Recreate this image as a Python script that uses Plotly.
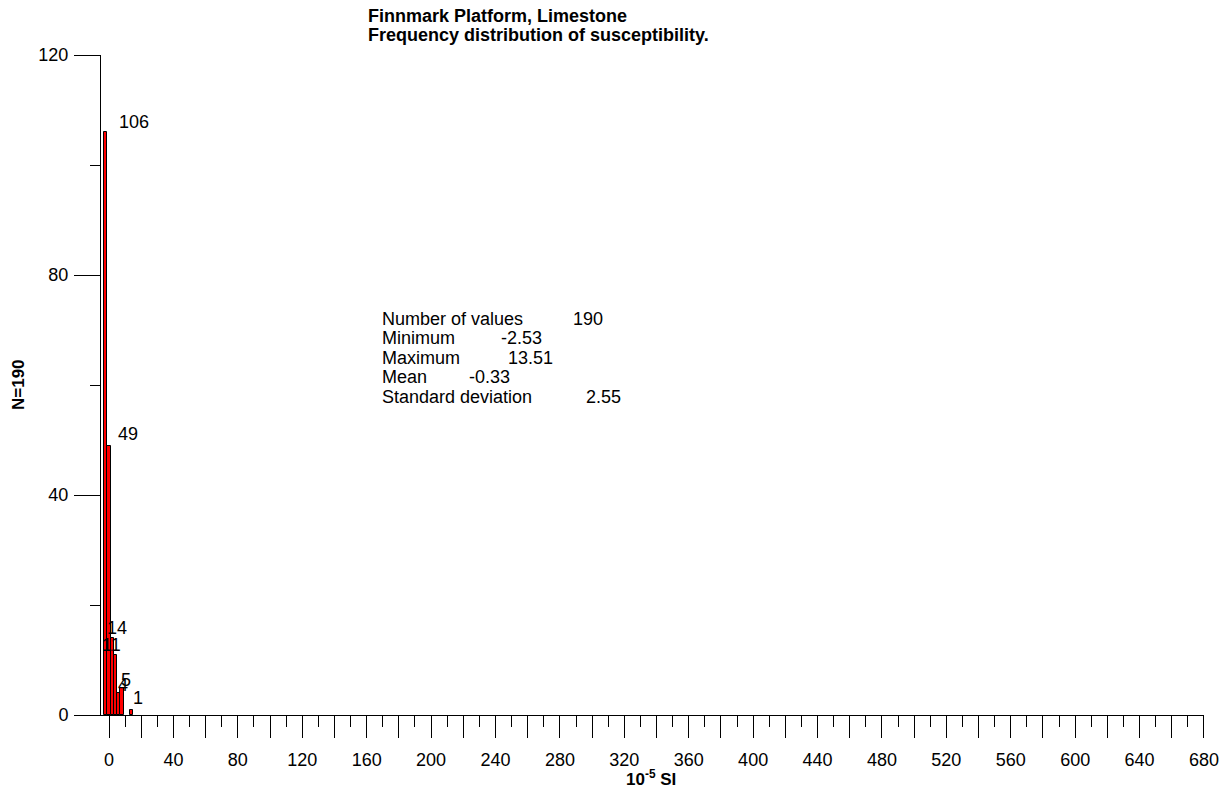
import plotly.graph_objects as go

# ---- data ----
bin_centers = [-2, 0, 2, 4, 6, 8, 10, 12, 14]
counts = [106, 49, 14, 11, 4, 5, 0, 0, 1]
bin_width = 2
x_tick_values = list(range(0, 681, 20))
x_tick_labels = [str(v) if v % 40 == 0 else "" for v in x_tick_values]
y_tick_values = [0, 40, 80, 120]
title_lines = ["Finnmark Platform, Limestone", "Frequency distribution of susceptibility."]
stat_names = ["Number of values", "Minimum", "Maximum", "Mean", "Standard deviation"]
stat_values = ["190", "-2.53", "13.51", "-0.33", "2.55"]
y_title = "N=190"
x_title = "10<sup>-5</sup> SI"

# ---- layout geometry (screen pixels; page body has an 8px margin) ----
OFF = 8
W, H = 1231 - OFF, 792 - OFF
PLOT_X0, PLOT_X1, PLOT_Y0, PLOT_Y1 = 101, 1204, 55, 715   # on screen
L, R = PLOT_X0 - OFF, W - (PLOT_X1 - OFF)
T, B = PLOT_Y0 - OFF, H - (PLOT_Y1 - OFF)
PW, PH = PLOT_X1 - PLOT_X0, PLOT_Y1 - PLOT_Y0
FONT = "Arial, Liberation Sans, sans-serif"


def px_x(x):
    return (x - PLOT_X0) / PW


def px_y(y):
    return (PLOT_Y1 - y) / PH


fig = go.Figure()
nz = [(c, n) for c, n in zip(bin_centers, counts) if n > 0]
fig.add_trace(go.Bar(
    x=[c for c, _ in nz], y=[n for _, n in nz], width=bin_width,
    marker=dict(color="#ff0000", line=dict(color="black", width=1)),
    hoverinfo="x+y", showlegend=False,
))

# count labels (pixel offsets mimic the original placement)
label_xshift = [11, 7, -7, -15, -3, -3, -1]
label_yshift = [10, 12, 10, 10, 8, 8, 12]
for (c, n), dx, dy in zip(nz, label_xshift, label_yshift):
    fig.add_annotation(x=c, y=n, xref="x", yref="y", text=str(n), showarrow=False,
                       xanchor="left", yanchor="middle", xshift=dx, yshift=dy,
                       font=dict(family=FONT, size=18, color="black"))

# title
for i, line in enumerate(title_lines):
    fig.add_annotation(x=px_x(366), y=px_y(16 + 19 * i), xref="paper", yref="paper",
                       text="<b>%s</b>" % line, showarrow=False, xanchor="left", yanchor="middle",
                       font=dict(family=FONT, size=18, color="black"))

# statistics block
stat_value_x = [571, 499, 506, 467, 584]
for i, (name, val, vx) in enumerate(zip(stat_names, stat_values, stat_value_x)):
    yy = px_y(318.5 + 19.6 * i)
    fig.add_annotation(x=px_x(380), y=yy, xref="paper", yref="paper", text=name,
                       showarrow=False, xanchor="left", yanchor="middle",
                       font=dict(family=FONT, size=18, color="black"))
    fig.add_annotation(x=px_x(vx), y=yy, xref="paper", yref="paper", text=val,
                       showarrow=False, xanchor="left", yanchor="middle",
                       font=dict(family=FONT, size=18, color="black"))

# axis titles
fig.add_annotation(x=px_x(651), y=px_y(778), xref="paper", yref="paper",
                   text="<b>%s</b>" % x_title, showarrow=False, xanchor="center", yanchor="middle",
                   font=dict(family=FONT, size=17, color="black"))
fig.add_annotation(x=px_x(18), y=px_y(385), xref="paper", yref="paper",
                   text="<b>%s</b>" % y_title, showarrow=False, textangle=-90,
                   xanchor="center", yanchor="middle",
                   font=dict(family=FONT, size=17, color="black"))

fig.update_layout(
    width=W, height=H,
    margin=dict(l=L, r=R, t=T, b=B, pad=0),
    paper_bgcolor="white", plot_bgcolor="white",
    font=dict(family=FONT, size=18, color="black"),
    bargap=0,
    xaxis=dict(
        range=[-5, 680.01], tickmode="array", tickvals=x_tick_values, ticktext=x_tick_labels,
        ticks="outside", ticklen=22, tickwidth=1, tickcolor="black", ticklabelstandoff=6,
        minor=dict(tickmode="linear", tick0=0, dtick=10, ticks="outside", ticklen=11,
                   tickwidth=1, tickcolor="black"),
        showline=True, linecolor="black", linewidth=1, showgrid=False, zeroline=False,
        tickfont=dict(family=FONT, size=18, color="black"),
    ),
    yaxis=dict(
        range=[0, 120], tickmode="array", tickvals=y_tick_values,
        ticks="outside", ticklen=26, tickwidth=1, tickcolor="black", ticklabelstandoff=2,
        minor=dict(tickmode="linear", tick0=0, dtick=20, ticks="outside", ticklen=10,
                   tickwidth=1, tickcolor="black"),
        showline=True, linecolor="black", linewidth=1, showgrid=False, zeroline=False,
        tickfont=dict(family=FONT, size=18, color="black"),
    ),
)

fig.write_html("out.html")
